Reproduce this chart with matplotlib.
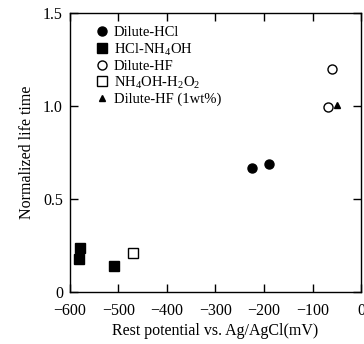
import matplotlib
matplotlib.use("Agg")
import matplotlib.pyplot as plt

plt.rcParams['font.family'] = ['Liberation Serif', 'DejaVu Serif']
plt.rcParams['mathtext.fontset'] = 'custom'
plt.rcParams['mathtext.rm'] = 'Liberation Serif'

# data: rest potential (mV), normalized life time
hcl_x = [-225, -190]
hcl_y = [0.667, 0.69]
hcl_nh4oh_x = [-579, -581, -509]
hcl_nh4oh_y = [0.238, 0.18, 0.14]
hf_x = [-59, -68]
hf_y = [1.20, 0.996]
apm_x = [-469]
apm_y = [0.21]
hf1_x = [-49]
hf1_y = [1.005]

fig = plt.figure(figsize=(3.64, 3.44), dpi=100)
ax = fig.add_axes([0.192, 0.151, 0.8, 0.811])

ax.plot(hcl_x, hcl_y, 'o', color='black', ms=6.5, ls='none', label='Dilute-HCl')
ax.plot(hcl_nh4oh_x, hcl_nh4oh_y, 's', color='black', ms=6.5, ls='none',
        label='HCl-NH$_4$OH')
ax.plot(hf_x, hf_y, 'o', mfc='white', mec='black', mew=1.0, ms=6.5, ls='none',
        label='Dilute-HF')
ax.plot(apm_x, apm_y, 's', mfc='white', mec='black', mew=1.0, ms=6.5, ls='none',
        label='NH$_4$OH-H$_2$O$_2$')
ax.plot(hf1_x, hf1_y, '^', color='black', ms=4, ls='none',
        label='Dilute-HF (1wt%)')

ax.set_xlim(-600, 0)
ax.set_ylim(0, 1.5)
ax.set_xticks([-600, -500, -400, -300, -200, -100, 0])
ax.set_xticklabels(['\u2212600', '\u2212500', '\u2212400', '\u2212300',
                    '\u2212200', '\u2212100', '0'])
ax.set_yticks([0, 0.5, 1.0, 1.5])
ax.set_yticklabels(['0', '0.5', '1.0', '1.5'])
ax.tick_params(direction='in', top=True, right=True, length=6, width=1,
               labelsize=11.5)
ax.tick_params(axis='x', pad=8)
ax.tick_params(axis='y', pad=5)
for s in ax.spines.values():
    s.set_linewidth(1.0)

ax.set_xlabel('Rest potential vs. Ag/AgCl(mV)', fontsize=11.5, labelpad=3)
ax.set_ylabel('Normalized life time', fontsize=11.5, labelpad=6)

ax.legend(loc='upper left', frameon=False, fontsize=10.5, handletextpad=0.2,
          handlelength=1.2, labelspacing=0.12, borderaxespad=0.5,
          bbox_to_anchor=(0.035, 1.0))

fig.savefig('out.png', dpi=100)
